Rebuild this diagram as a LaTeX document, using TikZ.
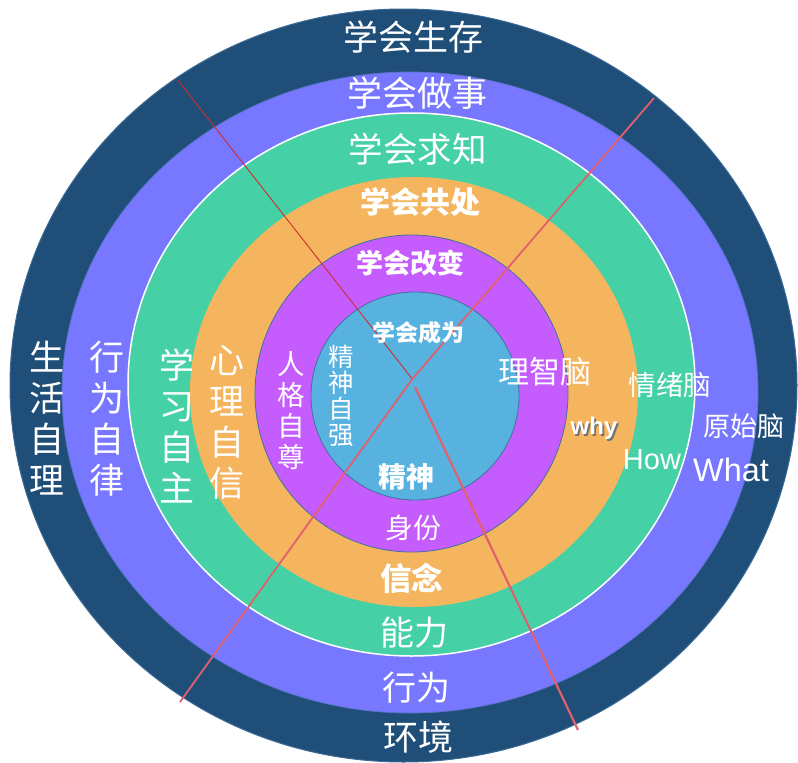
\documentclass[tikz,border=0pt]{standalone}
\usepackage{fontspec}
\setmainfont{Liberation Sans}
\newfontfamily\cjk{Noto Sans CJK SC}
\newfontfamily\latf{Liberation Sans}
\newcommand\myfs[2]{\fontsize{#1}{#2}\selectfont}
\definecolor{cNavy}{HTML}{1F4E79}
\definecolor{cPeri}{HTML}{7777FF}
\definecolor{cGreen}{HTML}{45D1A5}
\definecolor{cOrange}{HTML}{F5B55F}
\definecolor{cMag}{HTML}{C55DFE}
\definecolor{cSky}{HTML}{58B2E0}
\definecolor{cEdge}{HTML}{41719C}
\definecolor{cLine}{HTML}{E0606E}
\definecolor{cRed}{HTML}{D02C30}
\begin{document}
\begin{tikzpicture}[x=1pt,y=-1pt,
  lbl/.style={text=white,inner sep=0pt,font=\cjk},
  vlbl/.style={text=white,inner sep=0pt,align=center},
  ring/.style={draw=cEdge,line width=0.8pt},
  divline/.style={draw=cLine,line width=1.8pt},
  thinline/.style={draw=cRed,line width=0.9pt}]
\useasboundingbox (0,0) rectangle (798,763);
% rings
\fill[cNavy,draw=cEdge!80!cNavy,line width=1pt] (403.5,385.5) ellipse [x radius=393.5pt, y radius=376.5pt];
\fill[cPeri,draw=cEdge!60!cPeri,line width=0.8pt] (410,392.5) ellipse [x radius=348pt, y radius=320.5pt];
\fill[cGreen,draw=white,line width=1.5pt] (411.5,384.5) ellipse [x radius=283.5pt, y radius=271.5pt];
\fill[cOrange] (414,392) ellipse [x radius=224pt, y radius=215pt];
\fill[cMag,ring] (411.5,393.5) ellipse [x radius=156.5pt, y radius=158.5pt];
\fill[cSky,ring] (415,396) ellipse [x radius=104pt, y radius=104pt];
% connector lines
\coordinate (c) at (412.3,379);
\coordinate (cb) at (415,387);
\coordinate (ul) at (178.3,80.7);
\coordinate (ur) at (654,98);
\coordinate (ll) at (180,702);
\coordinate (lr) at (578,730);
\draw[thinline] (ul) -- (c);
\draw[divline] (ur) -- (c) -- (ll);
\draw[divline,line width=2.2pt] (cb) -- (lr);
% top / bottom labels
\node[lbl,font=\cjk\myfs{35}{35}] (t1) at (413,37.5) {学会生存};
\node[lbl,font=\cjk\myfs{35}{35}] (t2) at (417,93) {学会做事};
\node[lbl,font=\cjk\myfs{34.5}{34.5}] (t3) at (417.5,149) {学会求知};
\node[lbl,font=\cjk\bfseries\myfs{30}{30}] (t4) at (420,202) {学会共处};
\node[lbl,font=\cjk\bfseries\myfs{27}{27}] (t5) at (410.7,262.7) {学会改变};
\node[lbl,font=\cjk\bfseries\myfs{23}{23}] (t6) at (418.7,333) {学会成为};
\node[lbl,font=\cjk\bfseries\myfs{28}{28}] (b6) at (406.7,476.7) {精神};
\node[lbl,font=\cjk\myfs{28}{28}] (b5) at (413,528) {身份};
\node[lbl,font=\cjk\bfseries\myfs{31.5}{31.5}] (b4) at (411.7,578) {信念};
\node[lbl,font=\cjk\myfs{34}{34}] (b3) at (414,633) {能力};
\node[lbl,font=\cjk\myfs{34}{34}] (b2) at (416,688) {行为};
\node[lbl,font=\cjk\myfs{35}{35}] (b1) at (418,737) {环境};
% right labels
\node[lbl,font=\cjk\myfs{31}{31}] (r1) at (545,372) {理智脑};
\node[lbl,font=\cjk\myfs{27.5}{27.5}] (r2) at (670,385) {情绪脑};
\node[lbl,font=\cjk\myfs{27}{27}] (r3) at (743.7,426.7) {原始脑};
\node[inner sep=0pt,text=white,font=\latf\bfseries\myfs{24}{24}] (why) at (594,429.5)
  {\makebox[0pt][l]{\hspace{1.8pt}\raisebox{-1.6pt}{\color{black!55}why}}why};
\node[inner sep=0pt,text=white,font=\latf\myfs{29}{29}] (how) at (652,460) {How};
\node[inner sep=0pt,text=white,font=\latf\myfs{32.5}{32.5}] (what) at (731,470) {What};
% vertical labels
\node[vlbl,font=\cjk\myfs{35}{41}] (v1) at (46.7,418) {生\\活\\自\\理};
\node[vlbl,font=\cjk\myfs{35}{41}] (v2) at (106.7,419) {行\\为\\自\\律};
\node[vlbl,font=\cjk\myfs{35}{41}] (v3) at (176.7,425.8) {学\\习\\自\\主};
\node[vlbl,font=\cjk\myfs{35}{41}] (v4) at (226.7,422.5) {心\\理\\自\\信};
\node[vlbl,font=\cjk\myfs{27.5}{31}] (v5) at (290.8,411) {人\\格\\自\\尊};
\node[vlbl,font=\cjk\myfs{25.5}{26}] (v6) at (341.7,396) {精\\神\\自\\强};
\end{tikzpicture}
\end{document}
